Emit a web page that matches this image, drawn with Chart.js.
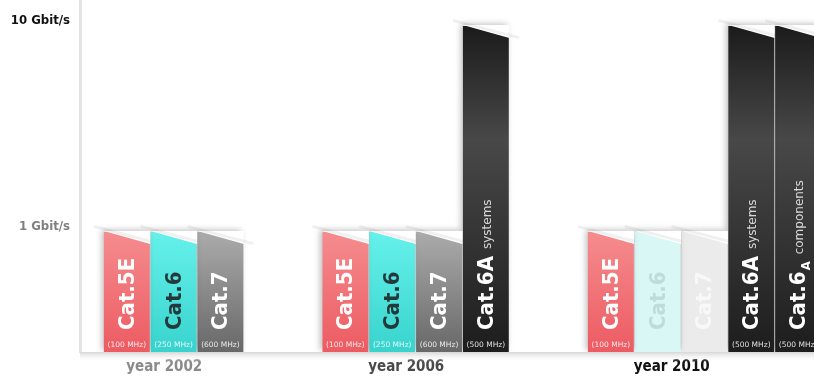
<!DOCTYPE html>
<html>
<head>
<meta charset="utf-8">
<script src="https://cdn.jsdelivr.net/npm/chart.js@4"></script>
<style>
    html, body { margin: 0; padding: 0; background: #fff; }
    #wrap { width: 814px; height: 378px; }
</style>
</head>
<body>
<div id="wrap"><canvas id="speedChart"></canvas></div>
<script>
const years = ['year 2002', 'year 2006', 'year 2010'];
const cableNames = ['Cat.5E', 'Cat.6', 'Cat.7', 'Cat.6A', 'Cat.6'];
const cableSubs = ['', '', '', '', 'A'];
const cableNotes = ['', '', '', 'systems', 'components'];
const cableFreqs = ['(100 MHz)', '(250 MHz)', '(600 MHz)', '(500 MHz)', '(500 MHz)'];

// Gbit/s per cable type, null = not on the market yet
const speed2002 = [1, 1, 1, null, null];
const speed2006 = [1, 1, 1, 10, null];
const speed2010 = [1, 1, 1, 10, 10];

// greyed out (superseded) that year
const outdated2002 = [false, false, false, false, false];
const outdated2006 = [false, false, false, false, false];
const outdated2010 = [false, true, true, false, false];

const speedTicks = [1, 10];
const speedTickLabels = ['1 Gbit/s', '10 Gbit/s'];

const speedsByYear = [speed2002, speed2006, speed2010];
const outdatedByYear = [outdated2002, outdated2006, outdated2010];

// layout
const GROUP_GAP = 1.67;   // empty slots between two years
const LABEL_SHIFT = -0.2;
const SLANT = 12;
const FONT_COND = '"DejaVu Sans Condensed", "Liberation Sans Narrow", sans-serif';

const barColors = [
    ['#f58c8e', '#ec5b62'],
    ['#66f1eb', '#38d3cd'],
    ['#ababab', '#686868'],
    ['#1b1b1b', '#484848', '#1d1d1d'],
    ['#1b1b1b', '#484848', '#1d1d1d']
];
const fadedColors = ['#f6b3b4', '#d9f7f5', '#ebebeb', '#999', '#999'];
const nameColors = ['#fff', '#23393a', '#fff', '#fff', '#fff'];
const fadedNameColors = ['#fff', '#bddcda', '#f8f8f8', '#fff', '#fff'];
const yearColors = ['#8a8a8a', '#4a4a4a', '#111'];
const speedTickColors = ['#808080', '#111'];

const groupStart = [];
let slot = 0;
speedsByYear.forEach(s => {
    groupStart.push(slot);
    slot += s.filter(v => v !== null).length + GROUP_GAP;
});

// year label sits under the group (the clipped components bar left out)
const yearTickPos = speedsByYear.map((s, y) => {
    const n = Math.min(s.filter(v => v !== null).length, 4);
    return groupStart[y] + (n - 1) / 2 + LABEL_SHIFT;
});

function barFill(c) {
    const chart = c.chart;
    const raw = c.raw;
    if (!raw || !chart.chartArea) return '#999';
    const t = c.datasetIndex;
    if (outdatedByYear[raw.year][t]) return fadedColors[t];
    const yScale = chart.scales.y;
    const top = yScale.getPixelForValue(raw.y);
    const g = chart.ctx.createLinearGradient(0, top, 0, chart.chartArea.bottom);
    const stops = barColors[t];
    if (stops.length === 3) {
        g.addColorStop(0, stops[0]);
        g.addColorStop(0.35, stops[1]);
        g.addColorStop(1, stops[2]);
    } else {
        g.addColorStop(0, stops[0]);
        g.addColorStop(1, stops[1]);
    }
    return g;
}

const datasets = cableNames.map((name, t) => {
    const data = [];
    speedsByYear.forEach((s, y) => {
        if (s[t] !== null) data.push({ x: groupStart[y] + t, y: s[t], year: y });
    });
    return {
        label: name + cableSubs[t] + (cableNotes[t] ? ' ' + cableNotes[t] : ''),
        data: data,
        grouped: false,
        categoryPercentage: 1,
        barPercentage: 0.98,
        backgroundColor: barFill,
        borderWidth: 0
    };
});

const barDecor = {
    id: 'barDecor',
    beforeDatasetsDraw(chart) {
        const ctx = chart.ctx;
        const a = chart.chartArea;
        // floor under the bars
        const fg = ctx.createLinearGradient(0, a.bottom, 0, a.bottom + 10);
        fg.addColorStop(0, '#d6d6d6');
        fg.addColorStop(1, 'rgba(255,255,255,0)');
        ctx.fillStyle = fg;
        ctx.fillRect(a.left, a.bottom, a.right - a.left, 10);

        ctx.save();
        ctx.shadowColor = 'rgba(0,0,0,0.25)';
        ctx.shadowBlur = 6;
        ctx.shadowOffsetX = -2;
        ctx.shadowOffsetY = -2;
    },
    afterDatasetsDraw(chart) {
        const ctx = chart.ctx;
        ctx.restore();

        const bars = [];
        chart.data.datasets.forEach((ds, i) => {
            chart.getDatasetMeta(i).data.forEach((el, j) => {
                const p = el.getProps(['x', 'y', 'base', 'width'], true);
                bars.push({ x: p.x, y: p.y, base: p.base, width: p.width, type: i, year: ds.data[j].year });
            });
        });

        // cut the slanted tops
        ctx.save();
        ctx.globalCompositeOperation = 'destination-out';
        ctx.fillStyle = '#000';
        bars.forEach(b => {
            const l = b.x - b.width / 2, r = b.x + b.width / 2 + 0.5;
            ctx.beginPath();
            ctx.moveTo(l, b.y - 1);
            ctx.lineTo(r, b.y - 1);
            ctx.lineTo(r, b.y + SLANT);
            ctx.closePath();
            ctx.fill();
        });

        // faint edge behind each top
        ctx.globalCompositeOperation = 'destination-over';
        ctx.strokeStyle = 'rgba(0,0,0,0.06)';
        ctx.lineWidth = 3;
        ctx.shadowColor = 'rgba(0,0,0,0.12)';
        ctx.shadowBlur = 4;
        bars.forEach(b => {
            const l = b.x - b.width / 2, r = b.x + b.width / 2;
            const k = SLANT / b.width;
            ctx.beginPath();
            ctx.moveTo(l - 10, b.y - 3 - 10 * k);
            ctx.lineTo(r + 10, b.y + SLANT - 3 + 10 * k);
            ctx.stroke();
        });
        ctx.restore();

        // names and frequencies
        bars.forEach(b => {
            const faded = outdatedByYear[b.year][b.type];
            ctx.save();
            ctx.translate(b.x + 7, b.base - 22);
            ctx.rotate(-Math.PI / 2);
            ctx.textAlign = 'left';
            ctx.textBaseline = 'alphabetic';
            ctx.font = 'bold 22px ' + FONT_COND;
            ctx.fillStyle = faded ? fadedNameColors[b.type] : nameColors[b.type];
            const name = cableNames[b.type];
            ctx.fillText(name, 0, 0);
            let w = ctx.measureText(name).width;
            const sub = cableSubs[b.type];
            if (sub) {
                ctx.font = 'bold 13px ' + FONT_COND;
                ctx.fillText(sub, w + 1, 5);
                w += ctx.measureText(sub).width + 1;
            }
            const note = cableNotes[b.type];
            if (note) {
                ctx.font = '12px "DejaVu Sans", sans-serif';
                ctx.fillStyle = 'rgba(255,255,255,0.8)';
                ctx.fillText(note, w + 7, -2);
            }
            ctx.restore();

            if (!faded) {
                ctx.save();
                ctx.font = '7.5px "DejaVu Sans", sans-serif';
                ctx.textAlign = 'center';
                ctx.textBaseline = 'middle';
                ctx.fillStyle = 'rgba(255,255,255,0.85)';
                ctx.fillText(cableFreqs[b.type], b.x, b.base - 7);
                ctx.restore();
            }
        });
    }
};

new Chart(document.getElementById('speedChart'), {
    type: 'bar',
    data: { datasets: datasets },
    options: {
        responsive: true,
        maintainAspectRatio: false,
        animation: false,
        layout: { padding: 0 },
        plugins: {
            legend: { display: false },
            tooltip: { enabled: false }
        },
        scales: {
            x: {
                type: 'linear',
                offset: false,
                min: -1,
                max: 14.68,
                grid: { display: false, drawTicks: false },
                border: { display: false },
                afterBuildTicks: s => { s.ticks = yearTickPos.map(v => ({ value: v })); },
                afterFit: s => { s.height = 26; s.paddingLeft = 0; s.paddingRight = 0; },
                ticks: {
                    callback: (v, i) => years[i],
                    color: c => yearColors[c.index],
                    font: { family: FONT_COND, size: 15, weight: 'bold' },
                    padding: 6,
                    maxRotation: 0,
                    autoSkip: false
                }
            },
            y: {
                type: 'logarithmic',
                min: 0.2616,
                max: 13.37,
                grid: { display: false, drawTicks: false },
                border: { display: true, color: '#e3e3e3', width: 3 },
                afterBuildTicks: s => { s.ticks = speedTicks.map(v => ({ value: v })); },
                afterFit: s => { s.width = 80; s.paddingTop = 0; s.paddingBottom = 0; },
                ticks: {
                    callback: (v, i) => speedTickLabels[i],
                    color: c => speedTickColors[c.index],
                    font: { family: FONT_COND, size: 13, weight: 'bold' },
                    padding: 10,
                    labelOffset: -5
                }
            }
        }
    },
    plugins: [barDecor]
});
</script>
</body>
</html>
